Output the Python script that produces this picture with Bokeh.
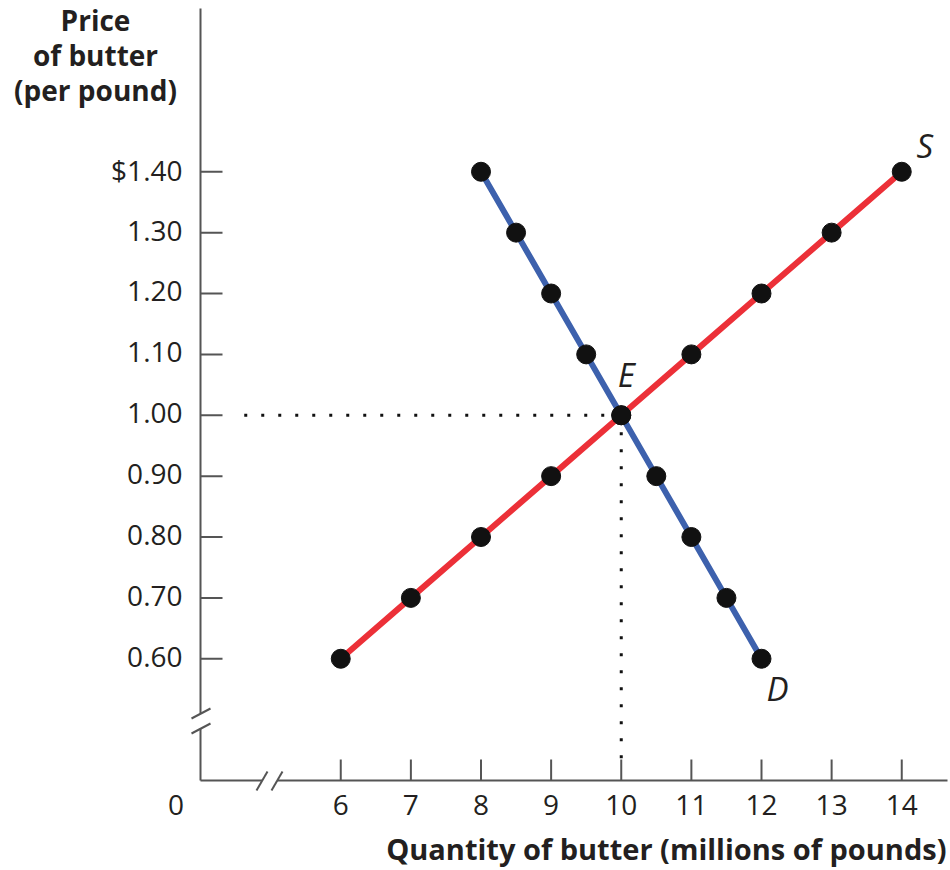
from bokeh.plotting import figure
from bokeh.models import Range1d
from bokeh.core.properties import value
from bokeh.embed import file_html
from bokeh.resources import INLINE

# ---- data ----
prices = [0.60, 0.70, 0.80, 0.90, 1.00, 1.10, 1.20, 1.30, 1.40]
quantity_supplied = [6, 7, 8, 9, 10, 11, 12, 13, 14]
quantity_demanded = [12, 11.5, 11, 10.5, 10, 9.5, 9, 8.5, 8]
x_ticks = [6, 7, 8, 9, 10, 11, 12, 13, 14]
x_tick_labels = ["6", "7", "8", "9", "10", "11", "12", "13", "14"]
y_ticks = [0.60, 0.70, 0.80, 0.90, 1.00, 1.10, 1.20, 1.30, 1.40]
y_tick_labels = ["0.60", "0.70", "0.80", "0.90", "1.00", "1.10", "1.20", "1.30", "$1.40"]
eq_q, eq_p = 10, 1.00
y_title = ["Price", "of butter", "(per pound)"]
x_title = "Quantity of butter (millions of pounds)"

# ---- layout geometry (pixels) ----
W, H = 950, 870
PXX = 70.125      # pixels per unit of quantity
PXY = 608.75      # pixels per $1
X0, Y0 = 4.0, 0.40  # axis origin in data units, drawn at px (200, 780)
ox, oy = 200, 780
BASE_FIX = 0.45   # empirical baseline correction (fraction of font size)

def dx(px):
    return px / PXX

def dy(px):
    return px / PXY

def X(px):
    return X0 + dx(px - ox)

def Y(py):
    return Y0 + dy(oy - py)

def TY(py, fs):
    # data y for a text whose baseline should sit at pixel row py
    return Y(py - BASE_FIX * fs)

FONT = "Open Sans"
TXT = "#231f20"
AX = "#555555"
RED = "#ec3038"
BLUE = "#3d61ad"

p = figure(width=W, height=H, output_backend="svg", toolbar_location=None,
           x_range=Range1d(X(0), X(W)), y_range=Range1d(Y(H), Y(0)),
           x_axis_location=None, y_axis_location=None,
           min_border=0, min_border_left=0, min_border_right=0,
           min_border_top=0, min_border_bottom=0)
p.outline_line_color = None
p.grid.visible = False
p.background_fill_color = "white"
p.border_fill_color = "white"

# ---- axis lines with breaks ----
p.segment(x0=[X0, X0], y0=[Y(8), Y(728)], x1=[X0, X0], y1=[Y(713), Y0],
          line_color=AX, line_width=2)
p.segment(x0=[X0, X(276.5)], y0=[Y0, Y0], x1=[X(261.5), X(W - 3)], y1=[Y0, Y0],
          line_color=AX, line_width=2)
# break slashes
p.segment(x0=[X(191), X(191)], y0=[Y(718), Y(733)],
          x1=[X(210), X(210)], y1=[Y(708), Y(723)],
          line_color=AX, line_width=2)
p.segment(x0=[X(256), X(271)], y0=[Y(790), Y(790)],
          x1=[X(267), X(282)], y1=[Y(771), Y(771)],
          line_color=AX, line_width=2)

# ticks (inward)
p.segment(x0=x_ticks, y0=[Y0] * len(x_ticks), x1=x_ticks,
          y1=[Y0 + dy(21)] * len(x_ticks), line_color=AX, line_width=2)
p.segment(x0=[X0] * len(y_ticks), y0=y_ticks, x1=[X0 + dx(22)] * len(y_ticks),
          y1=y_ticks, line_color=AX, line_width=2)

# tick labels
TFS = 28
p.text(x=x_ticks, y=[TY(817, TFS)] * len(x_ticks), text=x_tick_labels,
       text_font=value(FONT), text_font_size=f"{TFS}px", text_color=TXT,
       text_align="center", text_baseline="alphabetic")
p.text(x=[X(182)] * len(y_ticks),
       y=[t - dy(10.5) + dy(BASE_FIX * TFS) for t in y_ticks], text=y_tick_labels,
       text_font=value(FONT), text_font_size=f"{TFS}px", text_color=TXT,
       text_align="right", text_baseline="alphabetic")
p.text(x=[X(175.5)], y=[TY(817, TFS)], text=["0"],
       text_font=value(FONT), text_font_size=f"{TFS}px", text_color=TXT,
       text_align="center", text_baseline="alphabetic")

# ---- dotted guide lines ----
p.line([eq_q, X(232)], [eq_p, eq_p], line_color="#111111", line_width=3,
       line_dash="3 14")
p.line([eq_q, eq_q], [eq_p, Y0 + dy(22)], line_color="#111111", line_width=3,
       line_dash="3 14")

# ---- curves ----
p.line(quantity_supplied, prices, line_color=RED, line_width=6)
p.line(quantity_demanded, prices, line_color=BLUE, line_width=6)
p.scatter(quantity_supplied, prices, size=19, fill_color="#111111", line_color="#111111")
p.scatter(quantity_demanded, prices, size=19, fill_color="#111111", line_color="#111111")

# ---- curve labels ----
LFS = 33
fix = dy(BASE_FIX * LFS)
p.text(x=[quantity_supplied[-1] + dx(23), quantity_demanded[0] + dx(16), eq_q + dx(5)],
       y=[prices[-1] + dy(11) + fix, prices[0] - dy(45) + fix, eq_p + dy(26) + fix],
       text=["S", "D", "E"], text_font=value(FONT), text_font_size=f"{LFS}px",
       text_font_style="italic", text_color=TXT, text_align="center",
       text_baseline="alphabetic")

# ---- axis titles ----
HFS = 28
p.text(x=[X(95)] * 3, y=[TY(32, HFS), TY(67, HFS), TY(102, HFS)], text=y_title,
       text_font=value(FONT), text_font_size=f"{HFS}px", text_font_style="bold",
       text_color=TXT, text_align="center", text_baseline="alphabetic")
XFS = 29
p.text(x=[X(W - 4)], y=[TY(861, XFS)], text=[x_title],
       text_font=value(FONT), text_font_size=f"{XFS}px", text_font_style="bold",
       text_color=TXT, text_align="right", text_baseline="alphabetic")

open("out.html", "w").write(file_html(p, INLINE))
